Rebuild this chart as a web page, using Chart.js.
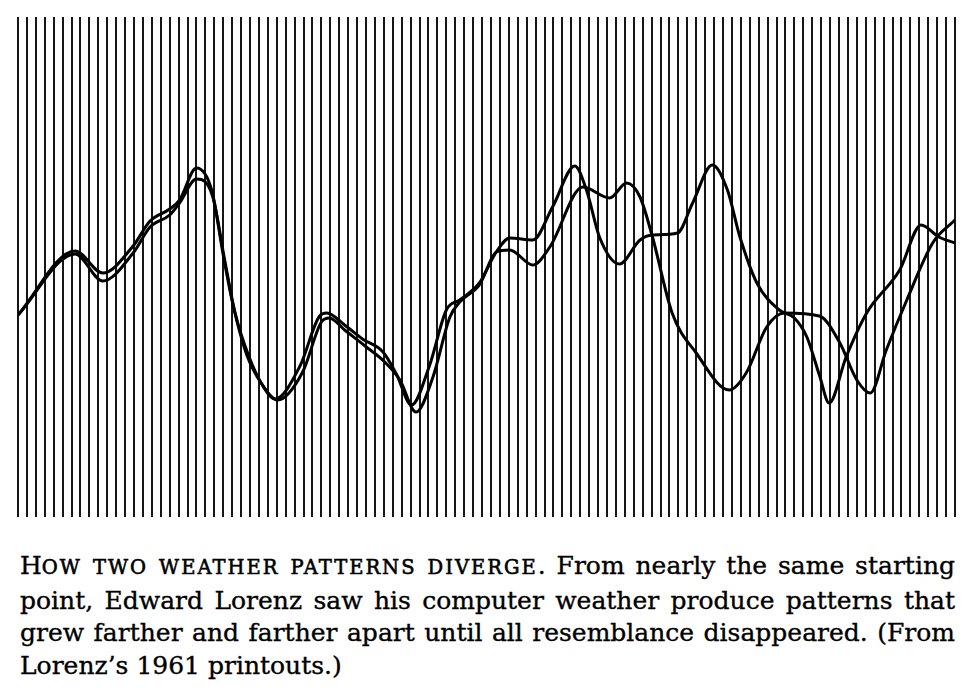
<!DOCTYPE html>
<html>
<head>
<meta charset="utf-8">
<script src="https://cdn.jsdelivr.net/npm/chart.js@4.4.1/dist/chart.umd.min.js"></script>
<style>
  html, body { margin: 0; padding: 0; background: #fff; }
  body { width: 970px; height: 696px; position: relative; overflow: hidden; }
  #wrap { position: absolute; left: 0; top: 0; width: 970px; height: 530px; }
  #caption {
    position: absolute; left: 20px; top: 550px; width: 935px;
    font-family: "DejaVu Serif", "Liberation Serif", serif;
    font-size: 25px; line-height: 32.7px; color: #000;
    -webkit-text-stroke: 0.35px #000;
  }
  #caption .ln { text-align: justify; text-align-last: justify; white-space: nowrap; }
  #caption .ln.last { text-align: left; text-align-last: left; }
  .sc { text-transform: uppercase; font-size: 19.5px; letter-spacing: 2px; -webkit-text-stroke: 0.6px #000; }
</style>
</head>
<body>
<div id="wrap"><canvas id="myChart"></canvas></div>
<div id="caption">
  <div class="ln">H<span class="sc">ow two weather patterns diverge</span>. From nearly the same starting</div>
  <div class="ln">point, Edward Lorenz saw his computer weather produce patterns that</div>
  <div class="ln">grew farther and farther apart until all resemblance disappeared. (From</div>
  <div class="ln last">Lorenz’s 1961 printouts.)</div>
</div>
<script>
  'use strict'

  // printout columns (one vertical rule per column)
  const columns = 106

  // first run: position along the printout, value
  const runAx = [0, 6.4, 9.5, 12.9, 14.8, 17.0, 18.1, 20.0, 21.7, 23.0, 24.1, 25.6, 27.3, 28.8,
    31.6, 33.8, 34.6, 36.6, 38.6, 40.9, 42.4, 44.1, 46.1, 48.0, 49.5, 51.7, 53.6, 55.1,
    57.7, 59.9, 62.4, 63.7, 65.2, 67.4, 69.7, 71.1, 73.9, 75.6, 77.8, 79.5, 80.9, 82.8,
    85.3, 87.0, 88.4, 89.8, 90.9, 92.8, 95.1, 98.8, 101.2, 103.2, 105]
  const runAy = [202, 266, 244, 271, 296, 308, 317, 349, 327, 262, 212, 163, 133, 118,
    151, 201, 204, 192, 178, 165, 143, 112, 151, 207, 217, 234, 265, 279,
    277, 310, 351, 327, 279, 253, 277, 282, 284, 314, 352, 327, 280, 234,
    207, 199, 180, 142, 114, 160, 204, 247, 292, 280, 274]

  // second run, restarted from nearly the same point
  const runBx = [0, 6.4, 9.5, 12.9, 14.8, 17.0, 18.1, 20.0, 21.8, 23.2, 24.3, 25.9, 27.4, 29.1,
    31.9, 34.0, 34.9, 36.6, 38.9, 41.1, 42.8, 44.6, 46.5, 48.4, 49.5, 51.7, 53.6, 55.1,
    57.7, 59.6, 63.3, 66.3, 68.2, 69.7, 71.1, 73.3, 76.0, 79.7, 81.6, 83.9, 85.9, 89.8,
    92.1, 94.0, 95.5, 97.3, 99.6, 102.5, 105]
  const runBy = [202, 263, 236, 264, 290, 302, 314, 338, 321, 255, 205, 160, 132, 117,
    145, 195, 199, 187, 171, 155, 137, 105, 140, 200, 215, 232, 265, 267,
    252, 270, 330, 319, 334, 320, 280, 204, 164, 127, 144, 190, 204, 201,
    174, 137, 124, 167, 217, 274, 297]

  function toPoints(xs, ys) {
    return xs.map((x, i) => ({ x: x, y: ys[i] }))
  }

  const ctx = document.getElementById('myChart')
  // eslint-disable-next-line no-unused-vars
  const myChart = new Chart(ctx, {
    type: 'line',
    data: {
      datasets: [{
        data: toPoints(runAx, runAy),
        borderColor: '#000',
        borderWidth: 3,
        pointRadius: 0,
        cubicInterpolationMode: 'monotone',
        fill: false
      }, {
        data: toPoints(runBx, runBy),
        borderColor: '#000',
        borderWidth: 3,
        pointRadius: 0,
        cubicInterpolationMode: 'monotone',
        fill: false
      }]
    },
    options: {
      responsive: true,
      maintainAspectRatio: false,
      animation: false,
      layout: {
        padding: { left: 18, right: 15, top: 17, bottom: 13 }
      },
      scales: {
        x: {
          type: 'linear',
          min: 0,
          max: columns - 1,
          ticks: { display: false, stepSize: 1, autoSkip: false },
          border: { display: false },
          grid: { color: '#161616', lineWidth: 2, drawTicks: false }
        },
        y: {
          display: false,
          min: 0,
          max: 500
        }
      },
      plugins: {
        legend: { display: false },
        tooltip: { enabled: false }
      }
    }
  })
</script>
</body>
</html>
